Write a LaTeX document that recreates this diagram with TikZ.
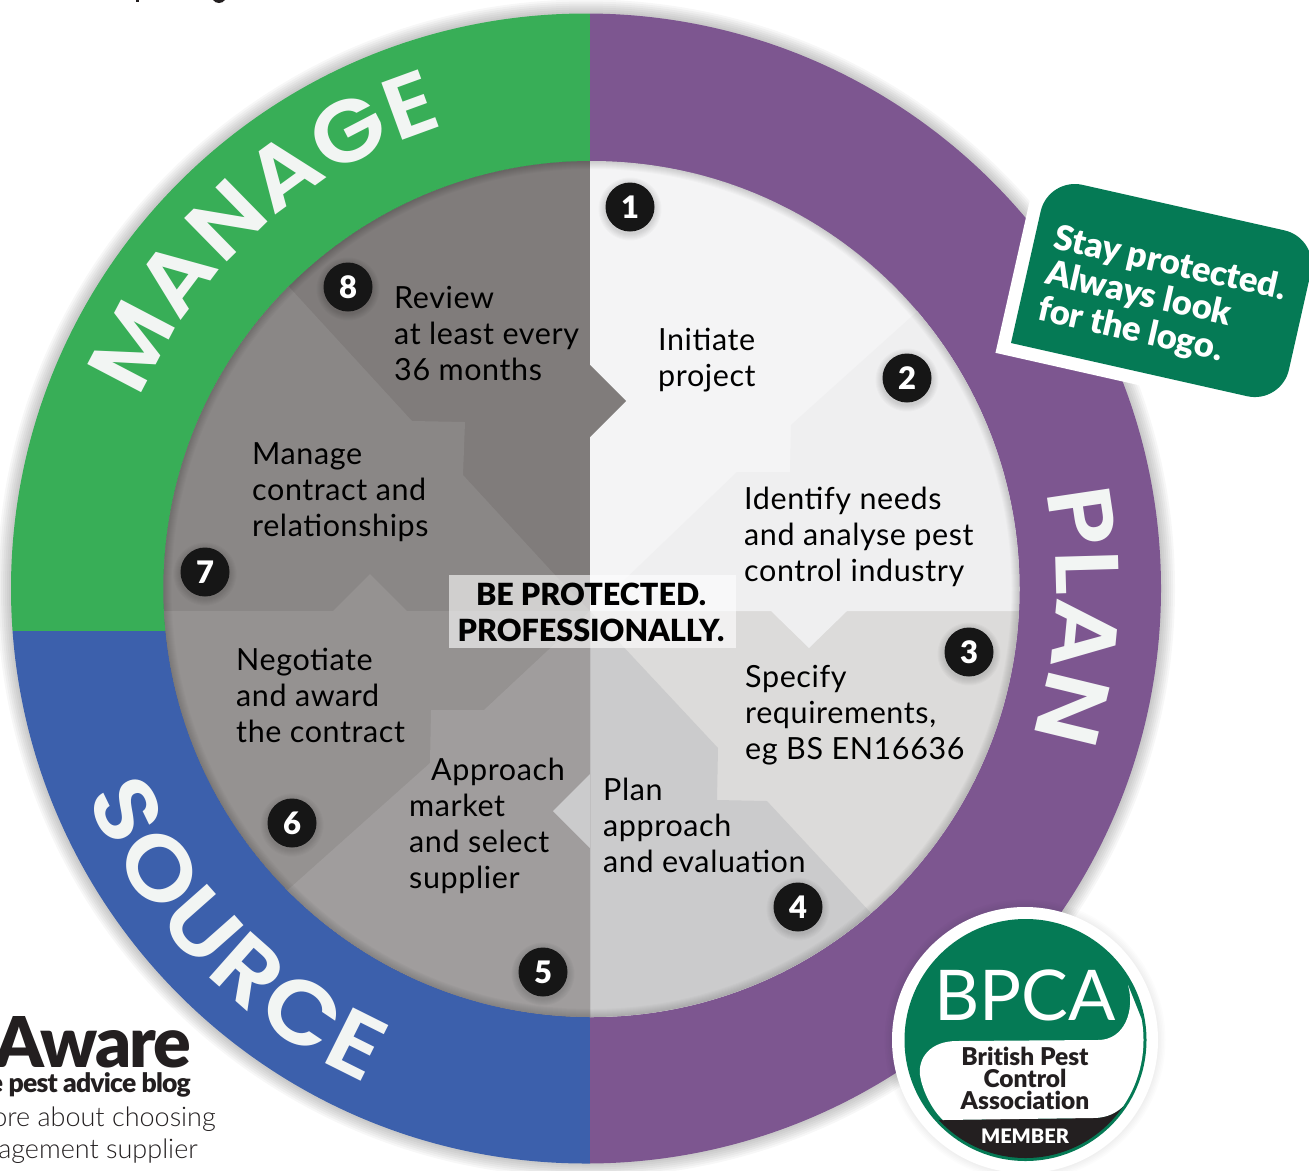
\documentclass[tikz,border=0pt]{standalone}
\usepackage{fontspec}
\setmainfont{Lato}[Ligatures=NoCommon]
\newfontfamily\hdm{Poppins SemiBold}[FakeStretch=1.1]
\newfontfamily\hdp{Poppins SemiBold}[FakeStretch=1.1]
\newfontfamily\lb{Lato}[LetterSpace=2]
\newfontfamily\lblk{Lato Black}[Ligatures=NoCommon]
\newfontfamily\lblkt{Lato Black}[LetterSpace=-3]
\newfontfamily\llt{Lato Light}
\usetikzlibrary{decorations.text}
\definecolor{cgreen}{HTML}{38AE57}
\definecolor{cpurple}{HTML}{7D5690}
\definecolor{cblue}{HTML}{3C60AC}
\definecolor{cbadge}{HTML}{057A55}
\definecolor{cdot}{HTML}{161616}
\definecolor{ca}{HTML}{F4F4F5}
\definecolor{cb}{HTML}{EFEFF0}
\definecolor{cc}{HTML}{DCDBDA}
\definecolor{cd}{HTML}{CBCBCC}
\definecolor{ce}{HTML}{A09D9D}
\definecolor{cf}{HTML}{959291}
\definecolor{cg}{HTML}{8A8786}
\definecolor{ch}{HTML}{807C7B}
\definecolor{cletter}{HTML}{F2F5F3}
\definecolor{cband}{HTML}{231F20}
\tikzset{
  lab/.style={anchor=base west,inner sep=0pt,text=black},
  dotnum/.style={circle,fill=cdot,minimum size=49pt,inner sep=0pt,text=white,font=\lblk\fontsize{31}{31}\selectfont},
  ringword/.style={decorate,decoration={text along path,text align={fit to path},text={#1}}},
  sideline/.style={anchor=base east,inner sep=0pt,text=cband}
}
\newcommand{\lines}[1]{\lb\fontsize{30.5}{36}\selectfont\begin{tabular}[t]{@{}l@{}}#1\end{tabular}}
\newcommand{\softdot}[1]{\foreach \w in {1,...,7}{\fill[black,opacity=.02] (#1) circle[radius={24.5pt+\w pt}];}}
\begin{document}
\begin{tikzpicture}[x=1pt,y=-1pt]
\useasboundingbox (0,0) rectangle (1309,1170);
\begin{scope}
\clip (0,0) rectangle (1309,1170);
\fill[white] (0,0) rectangle (1309,1170);
% fragments of cut text
\fill[cband] (136,0) rectangle (139,2);
\fill[cband] (213,0) .. controls (216,4) and (222,4) .. (225,0) -- cycle;
% outer soft shadow
\foreach \w in {4,8,...,28}{\draw[black,opacity=.03,line width=\w pt] (586,588.5) circle[radius=575pt];}
% ring
\begin{scope}
\clip (586,588.5) circle[radius=575pt];
\fill[cpurple] (590,0) rectangle (1200,1170);
\fill[cgreen] (0,0) rectangle (590,631);
\fill[cblue] (0,631) rectangle (590,1170);
\end{scope}
% ring words
\path[ringword={|\hdm\fontsize{87}{87}\selectfont\color{cletter}|MANAGE}] plot[domain=157:107,samples=60] ({586+485*cos(\x)},{589-485*sin(\x)});
\path[ringword={|\hdp\fontsize{90}{90}\selectfont\color{cletter}|PLAN}] plot[domain=12:-16,samples=60] ({586+470*cos(\x)},{589-470*sin(\x)});
\path[ringword={|\hdp\fontsize{89}{89}\selectfont\color{cletter}|SOURCE}] plot[domain=202.5:246,samples=60] ({586+541*cos(\x)},{589-541*sin(\x)});
% inner disc
\begin{scope}
\clip (591.5,589) circle[radius=428pt];
\fill[ch] (150,150) rectangle (590,1050);
\fill[ca] (590,150) rectangle (1040,1050);
\fill[cc] (590,611) rectangle (1040,1050);
\fill[cb] (1000,237) -- (910,318) -- (791,425) -- (790,472) -- (737,472) -- (592,611) -- (771,611) -- (809,648) -- (847,611) -- (1040,611) -- (1040,237) -- cycle;
\fill[cd] (590,611) -- (718,748) -- (717,800) -- (767,801) -- (870,912) -- (1000,1052) -- (590,1052) -- cycle;
\fill[ch] (590,365) -- (626,401) -- (590,437) -- cycle;
\fill[cg] (590,611) -- (555,575) -- (463,475) -- (465,422) -- (412,421) -- (290,288) -- (150,140) -- (150,611) -- cycle;
\fill[cf] (150,611) -- (333,611) -- (370,574) -- (407,611) -- (590,611) -- (590,1050) -- (150,1050) -- cycle;
\fill[ce] (590,611) -- (484,710) -- (431,710) -- (430,763) -- (290,888) -- (180,985) -- (180,1050) -- (590,1050) -- cycle;
\fill[cd] (590,774) -- (553,811) -- (590,848) -- cycle;
\foreach \w in {2,4,...,16}{\draw[black,opacity=.018,line width=\w pt] (591.5,589) circle[radius=428pt];}
\end{scope}
% centre label
\node[fill=white,fill opacity=.6,minimum width=287pt,minimum height=73pt,inner sep=0pt] (centrebox) at (592.5,611.5) {};
\node[anchor=base,inner sep=0pt,font=\lblk\fontsize{30.5}{36}\selectfont] (centretext) at (591,605) {\begin{tabular}[t]{@{}c@{}}BE PROTECTED.\\PROFESSIONALLY.\end{tabular}};
% step labels
\node[lab] (t1) at (658,350) {\lines{Initiate\\project}};
\node[lab] (t2) at (744,509) {\lines{Identify needs\\and analyse pest\\control industry}};
\node[lab] (t3) at (745,687) {\lines{Specify\\requirements,\\eg BS EN16636}};
\node[lab] (t4) at (603,800) {\lines{Plan\\approach\\and evaluation}};
\node[lab] (t5) at (409,780) {\lines{\hspace*{22pt}Approach\\market\\and select\\supplier}};
\node[lab] (t6) at (236,670) {\lines{Negotiate\\and award\\the contract}};
\node[lab] (t7) at (252,464) {\lines{Manage\\contract and\\relationships}};
\node[lab] (t8) at (394,308) {\lines{Review\\at least every\\36 months}};
% number dots
\softdot{630,209}\softdot{907,380}\softdot{969,654}\softdot{798,909}\softdot{543,974}\softdot{292,825}\softdot{205,574}\softdot{348,289}
\node[dotnum] (n1) at (630,207) {1};
\node[dotnum] (n2) at (907,378) {2};
\node[dotnum] (n3) at (969,652) {3};
\node[dotnum] (n4) at (798,907) {4};
\node[dotnum] (n5) at (543,972) {5};
\node[dotnum] (n6) at (292,823) {6};
\node[dotnum] (n7) at (205,572) {7};
\node[dotnum] (n8) at (348,287) {8};
% sticker
\begin{scope}[shift={(1011,343)},rotate=-12.7]
\fill[white] (-13,13) [rounded corners=35pt] -- (-13,-185) -- (300,-185) -- (300,13) [sharp corners] -- cycle;
\fill[cbadge] (0,0) [rounded corners=35pt] -- (0,-170) -- (277,-170) -- (277,0) [sharp corners] -- cycle;
\end{scope}
\node[anchor=base west,inner sep=0pt,rotate=-12.7,text=white,font=\lblk\fontsize{34.6}{36}\selectfont] (sticker) at (1052,248) {\begin{tabular}[t]{@{}l@{}}Stay protected.\\Always look\\for the logo.\end{tabular}};
% badge
\foreach \w in {3,6,...,15}{\draw[black,opacity=.012,line width=\w pt] (1025,1040) circle[radius=133pt];}
\fill[white] (1025,1040) circle[radius=133pt];
\fill[cbadge] (1025.5,1040) circle[radius=121pt];
\begin{scope}
\clip (1025.5,1040) circle[radius=118pt];
\fill[cband] (920,1120) -- (1093,1118) .. controls (1115,1118) and (1128,1105) .. (1135,1088) -- (1160,1085) -- (1160,1170) -- (920,1170) -- cycle;
\fill[white] (1128,985) .. controls (1135,1010) and (1125,1040) .. (1098,1040) -- (957,1041) .. controls (930,1041) and (918,1058) .. (920,1075) .. controls (922,1090) and (932,1110) .. (943,1120) -- (1093,1118) .. controls (1115,1118) and (1128,1105) .. (1135,1088) -- (1150,1040) -- cycle;
\end{scope}
\node[inner sep=0pt,anchor=base,text=white,font=\fontsize{70}{70}\selectfont] (bpca) at (1025,1020) {BPCA};
\node[inner sep=0pt,anchor=base,text=cband,font=\lblk\fontsize{24.5}{22}\selectfont] (bpname) at (1025,1065) {\begin{tabular}[t]{@{}c@{}}British Pest\\[-2.5pt]Control\\[-2.5pt]Association\end{tabular}};
\node[inner sep=0pt,anchor=base,text=white,font=\lblk\fontsize{20}{20}\selectfont] (member) at (1025,1143) {MEMBER};
% side text
\node[sideline,font=\lblkt\fontsize{70}{70}\selectfont] (aware) at (191,1067) {Aware};
\node[sideline,font=\lblkt\fontsize{26.5}{27}\selectfont] (blog) at (191,1092) {e pest advice blog};
\node[sideline,font=\llt\fontsize{27}{27}\selectfont] (more) at (216,1126) {ore about choosing};
\node[sideline,font=\llt\fontsize{27}{27}\selectfont] (mgmt) at (198,1158) {agement supplier};
\end{scope}
\end{tikzpicture}
\end{document}
